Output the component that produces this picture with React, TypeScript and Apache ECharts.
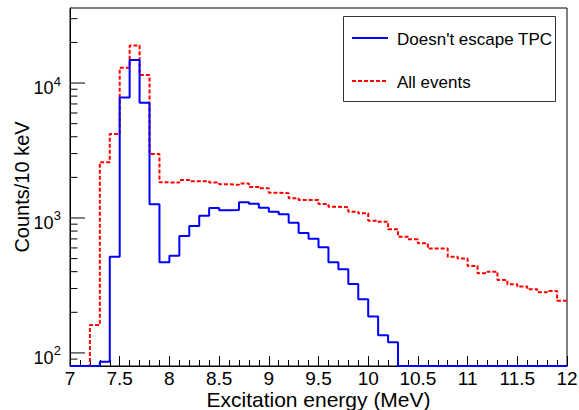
import React, { useEffect, useRef } from "react";
import * as echarts from "echarts";

// Histogram binning (MeV)
const X_START = 7.0;
const X_END = 12.0;
const BIN_WIDTH = 0.1;
const Y_MIN = 80;
const Y_MAX = 36000;

// Counts per bin, bins starting at 7.0, 7.1, ... 11.9
const doesntEscape = [
  0, 0, 0, 86, 516, 7830, 14800, 7140, 1262, 470,
  524, 736, 873, 1040, 1185, 1140, 1145, 1306, 1276, 1192,
  1114, 1065, 923, 774, 703, 607, 470, 417, 324, 250,
  186, 135, 120, 0, 0, 0, 0, 0, 0, 0,
  0, 0, 0, 0, 0, 0, 0, 0, 0, 0,
];
const allEvents = [
  0, 0, 161, 2590, 4190, 12970, 19000, 11460, 2976, 1837,
  1830, 1910, 1870, 1870, 1830, 1780, 1760, 1800, 1700, 1660,
  1540, 1525, 1400, 1360, 1360, 1270, 1213, 1200, 1114, 1083,
  955, 939, 824, 727, 695, 650, 593, 593, 516, 502,
  441, 389, 400, 347, 323, 310, 296, 282, 288, 244,
];

const SERIES_NAMES = ["Doesn't escape TPC", "All events"];
const yMajorTicks = [100, 1000, 10000];
const yMinorTicks = [
  90, 200, 300, 400, 500, 600, 700, 800, 900,
  2000, 3000, 4000, 5000, 6000, 7000, 8000, 9000, 20000, 30000,
];

const FONT = "'Liberation Sans', Arial, Helvetica, sans-serif";
const BLUE = "#0000ff";
const RED = "#ff0000";

function stepData(values: number[]) {
  const pts: [number, number][] = values.map((v, i) => [
    +(X_START + i * BIN_WIDTH).toFixed(2),
    Math.max(v, Y_MIN),
  ]);
  pts.push([X_END, Math.max(values[values.length - 1], Y_MIN)]);
  return pts;
}

export default function App() {
  const ref = useRef<HTMLDivElement>(null);
  useEffect(() => {
    if (!ref.current) return;
    const chart = echarts.init(ref.current, undefined, { renderer: "svg" });
    const tickData = [
      ...yMajorTicks.map((v) => [X_START, v, 1]),
      ...yMinorTicks.map((v) => [X_START, v, 0]),
    ];
    const legendText = (y: number, txt: string) => ({
      type: "text",
      z: 6,
      x: 397,
      y,
      style: {
        text: txt,
        fontFamily: FONT,
        fontSize: 17,
        fill: "#000",
        verticalAlign: "middle",
        align: "left",
      },
    });
    chart.setOption({
      animation: false,
      backgroundColor: "#fff",
      grid: {
        left: 70,
        right: 12,
        top: 8,
        bottom: 44,
        show: true,
        borderColor: "#000",
        borderWidth: 1,
        backgroundColor: "transparent",
        containLabel: false,
        outerBoundsMode: "none",
      },
      graphic: [
        {
          type: "rect",
          z: 5,
          shape: { x: 343.5, y: 16.5, width: 212, height: 85 },
          style: { fill: "#fff", stroke: "#333", lineWidth: 1 },
        },
        {
          type: "line",
          z: 6,
          shape: { x1: 352, y1: 38, x2: 388, y2: 38 },
          style: { stroke: BLUE, lineWidth: 2 },
        },
        legendText(39, SERIES_NAMES[0]),
        {
          type: "line",
          z: 6,
          shape: { x1: 352, y1: 81, x2: 388, y2: 81 },
          style: { stroke: RED, lineWidth: 2, lineDash: [4, 2] },
        },
        legendText(82, SERIES_NAMES[1]),
      ],
      xAxis: {
        type: "value",
        min: X_START,
        max: X_END,
        interval: 0.5,
        name: "Excitation energy (MeV)",
        nameLocation: "middle",
        nameGap: 23,
        nameMoveOverlap: false,
        nameTextStyle: { fontFamily: FONT, fontSize: 21, color: "#000" },
        axisLine: { show: true, lineStyle: { color: "#000", width: 1 } },
        axisTick: { show: true, inside: true, length: 10, lineStyle: { color: "#000" } },
        minorTick: { show: true, splitNumber: 5, length: 6, lineStyle: { color: "#000" } },
        axisLabel: { fontFamily: FONT, fontSize: 19, color: "#000", margin: 3 },
        splitLine: { show: false },
      },
      yAxis: {
        type: "log",
        logBase: 10,
        min: Y_MIN,
        max: Y_MAX,
        name: "Counts/10 keV",
        nameLocation: "middle",
        nameGap: 38,
        nameMoveOverlap: false,
        nameTextStyle: { fontFamily: FONT, fontSize: 20, color: "#000" },
        axisLine: { show: true, lineStyle: { color: "#000", width: 1 } },
        axisTick: { show: false },
        axisLabel: { show: false },
        splitLine: { show: false },
      },
      series: [
        {
          name: SERIES_NAMES[1],
          type: "line",
          step: "end",
          symbol: "none",
          clip: true,
          data: stepData(allEvents),
          lineStyle: { color: RED, width: 2, type: [4, 2] },
          itemStyle: { color: RED },
          z: 2,
        },
        {
          name: SERIES_NAMES[0],
          type: "line",
          step: "end",
          symbol: "none",
          clip: true,
          data: stepData(doesntEscape),
          lineStyle: { color: BLUE, width: 2 },
          itemStyle: { color: BLUE },
          z: 3,
        },
        {
          // y-axis ticks (major + minor log ticks) and 10^n labels
          type: "custom",
          silent: true,
          clip: false,
          data: tickData,
          z: 4,
          renderItem: (params: any, api: any) => {
            const v = api.value(1);
            const p = api.coord([api.value(0), v]);
            const major = api.value(2) === 1;
            const line = {
              type: "line",
              shape: { x1: p[0], y1: p[1], x2: p[0] + (major ? 15 : 7.5), y2: p[1] },
              style: { stroke: "#000", lineWidth: 1 },
            };
            if (!major) return line;
            const exp = String(Math.round(Math.log10(v)));
            return {
              type: "group",
              children: [
                line,
                {
                  type: "text",
                  x: p[0] - 16.5,
                  y: p[1] + 5,
                  style: {
                    text: "10",
                    fontFamily: FONT,
                    fontSize: 18,
                    fill: "#000",
                    align: "right",
                    verticalAlign: "middle",
                  },
                },
                {
                  type: "text",
                  x: p[0] - 9,
                  y: p[1] - 2,
                  style: {
                    text: exp,
                    fontFamily: FONT,
                    fontSize: 13,
                    fill: "#000",
                    align: "right",
                    verticalAlign: "middle",
                  },
                },
              ],
            };
          },
        },
      ],
    });
    return () => chart.dispose();
  }, []);
  return (
    <div
      ref={ref}
      style={{ position: "fixed", left: 0, top: 0, width: 579, height: 410 }}
    />
  );
}
